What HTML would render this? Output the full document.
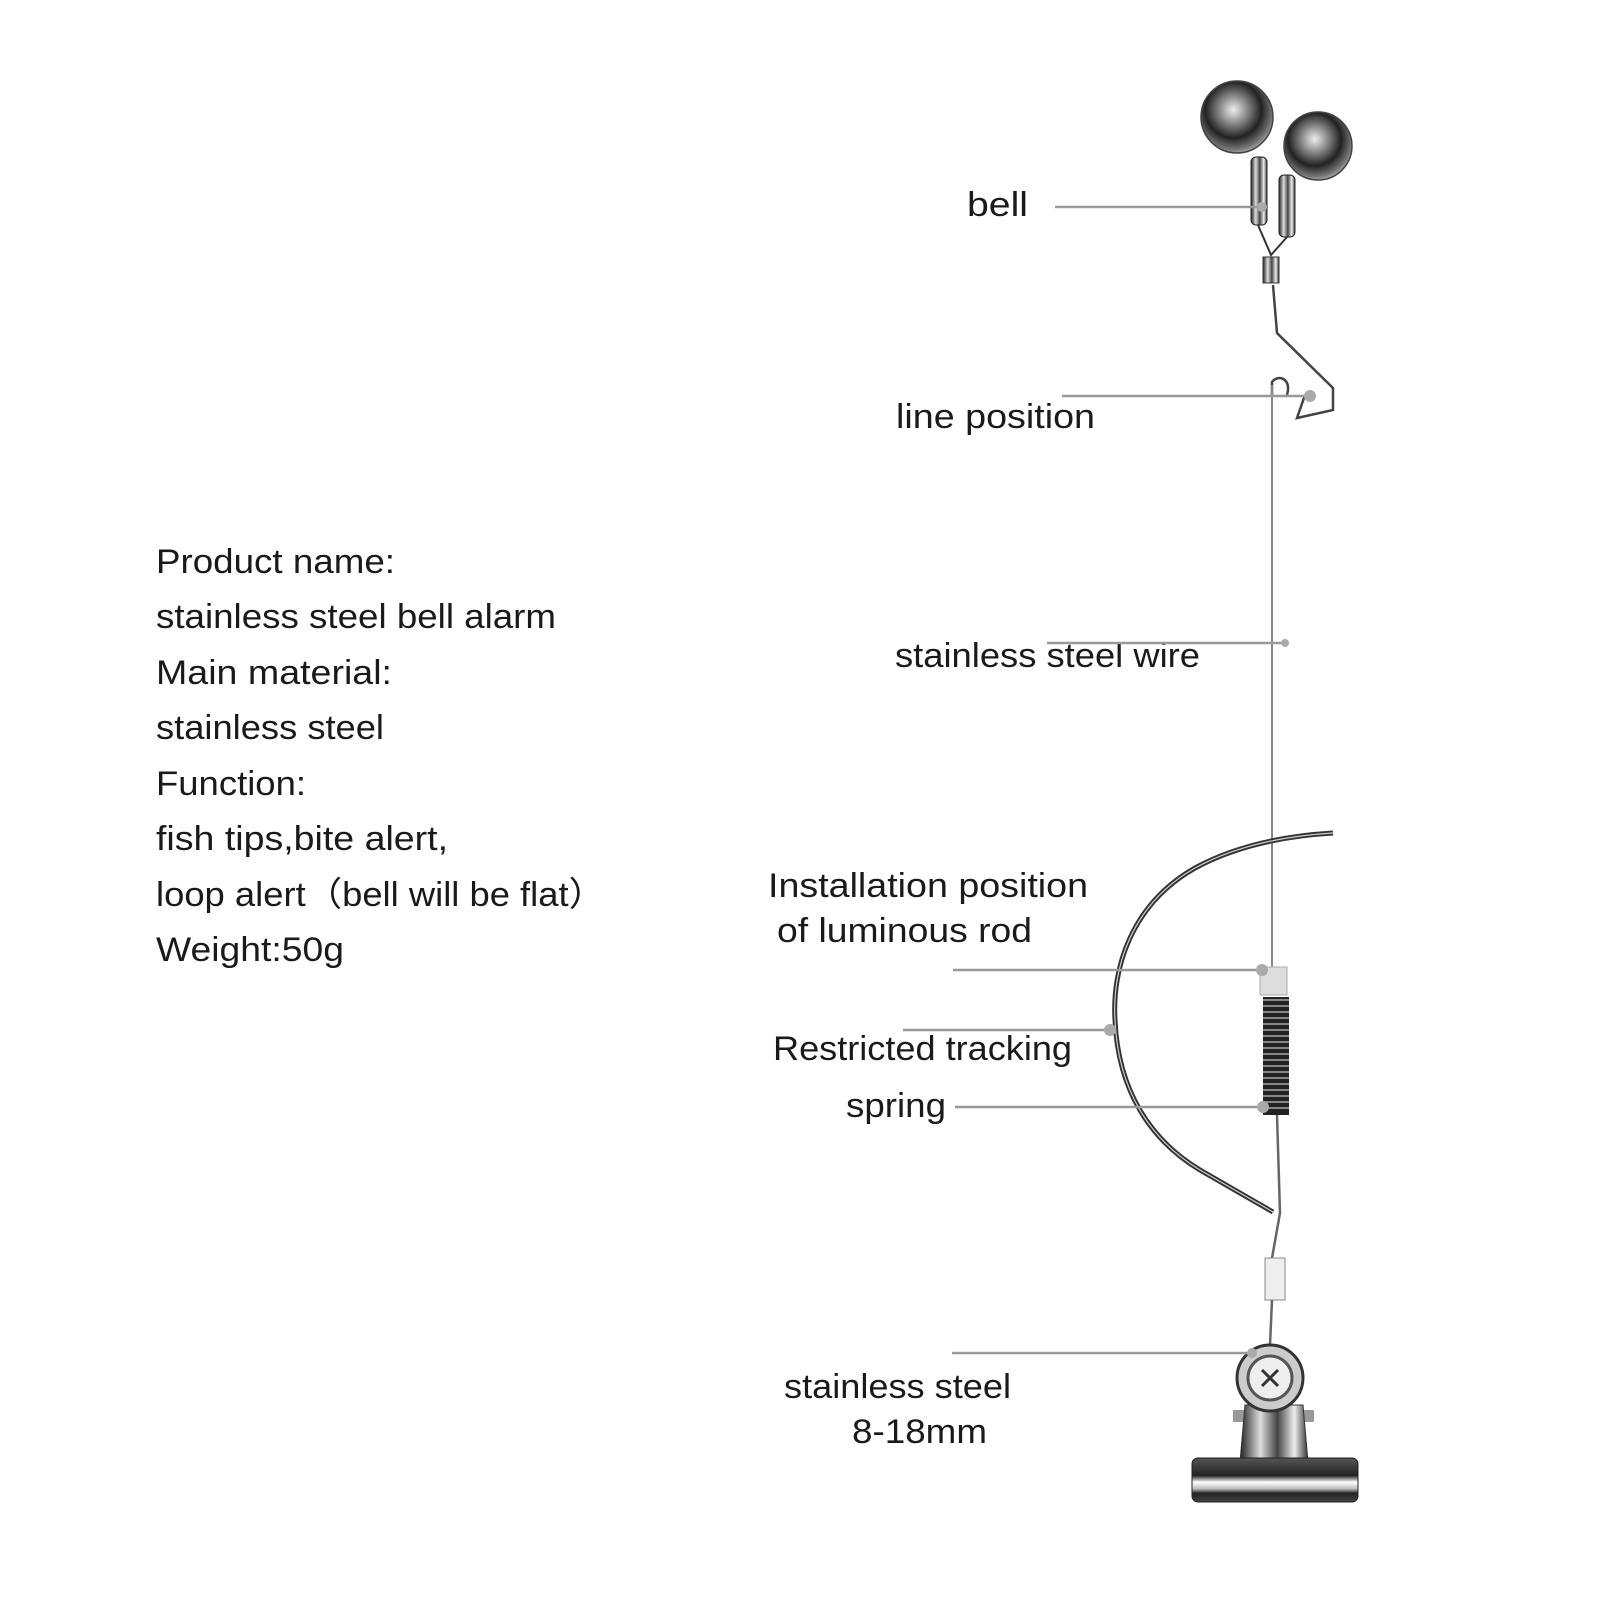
<!DOCTYPE html>
<html><head><meta charset="utf-8"><style>
html,body{margin:0;padding:0;background:#fff}
svg{display:block}
text{font-family:"Liberation Sans","DejaVu Sans",sans-serif;font-size:34px;fill:#1a1a1a}
</style></head><body>
<svg width="1600" height="1600" viewBox="0 0 1600 1600" xmlns="http://www.w3.org/2000/svg">
<defs>
<radialGradient id="ball" cx="0.45" cy="0.4" r="0.65">
<stop offset="0" stop-color="#eee"/><stop offset="0.3" stop-color="#888"/><stop offset="0.6" stop-color="#222"/><stop offset="0.85" stop-color="#777"/><stop offset="1" stop-color="#ccc"/>
</radialGradient>
<linearGradient id="met" x1="0" x2="1">
<stop offset="0" stop-color="#222"/><stop offset="0.3" stop-color="#ddd"/><stop offset="0.55" stop-color="#444"/><stop offset="0.8" stop-color="#eee"/><stop offset="1" stop-color="#333"/>
</linearGradient>
<linearGradient id="bar" x1="0" y1="0" x2="0" y2="1">
<stop offset="0" stop-color="#555"/><stop offset="0.4" stop-color="#222"/><stop offset="0.55" stop-color="#fff"/><stop offset="0.7" stop-color="#bbb"/><stop offset="0.8" stop-color="#222"/><stop offset="1" stop-color="#444"/>
</linearGradient>
</defs>

<text x="156" y="573" textLength="239" lengthAdjust="spacingAndGlyphs">Product name:</text>
<text x="156" y="628" textLength="400" lengthAdjust="spacingAndGlyphs">stainless steel bell alarm</text>
<text x="156" y="684" textLength="236" lengthAdjust="spacingAndGlyphs">Main material:</text>
<text x="156" y="739" textLength="228" lengthAdjust="spacingAndGlyphs">stainless steel</text>
<text x="156" y="795" textLength="150" lengthAdjust="spacingAndGlyphs">Function:</text>
<text x="156" y="850" textLength="292" lengthAdjust="spacingAndGlyphs">fish tips,bite alert,</text>
<text x="156" y="906" textLength="449" lengthAdjust="spacingAndGlyphs">loop alert（bell will be flat）</text>
<text x="156" y="961" textLength="188" lengthAdjust="spacingAndGlyphs">Weight:50g</text>

<text x="967" y="216" textLength="61" lengthAdjust="spacingAndGlyphs">bell</text>
<text x="896" y="428" textLength="199" lengthAdjust="spacingAndGlyphs">line position</text>
<text x="895" y="667" textLength="305" lengthAdjust="spacingAndGlyphs">stainless steel wire</text>
<text x="768" y="897" textLength="320" lengthAdjust="spacingAndGlyphs">Installation position</text>
<text x="777" y="942" textLength="255" lengthAdjust="spacingAndGlyphs">of luminous rod</text>
<text x="773" y="1060" textLength="299" lengthAdjust="spacingAndGlyphs">Restricted tracking</text>
<text x="846" y="1117" textLength="100" lengthAdjust="spacingAndGlyphs">spring</text>
<text x="784" y="1398" textLength="227" lengthAdjust="spacingAndGlyphs">stainless steel</text>
<text x="852" y="1443" textLength="135" lengthAdjust="spacingAndGlyphs">8-18mm</text>

<circle cx="1237" cy="117" r="36" fill="url(#ball)" stroke="#444" stroke-width="1.5"/>
<circle cx="1318" cy="146" r="34" fill="url(#ball)" stroke="#444" stroke-width="1.5"/>
<rect x="1251" y="157" width="16" height="68" rx="5" fill="url(#met)" stroke="#222"/>
<rect x="1279" y="175" width="16" height="62" rx="5" fill="url(#met)" stroke="#222"/>
<path d="M1258 225 L1271 255 L1287 237" fill="none" stroke="#333" stroke-width="2"/>
<rect x="1263" y="257" width="16" height="26" fill="url(#met)" stroke="#333"/>
<path d="M1273 285 L1277 333 L1333 388 L1333 410 L1297 418 L1305 395 M1287 395 C1292 378 1278 374 1272 382 L1272 395" fill="none" stroke="#444" stroke-width="2.5"/>
<path d="M1272 385 L1272 968" fill="none" stroke="#888" stroke-width="2"/>
<path d="M1333 833 Q1250 838 1195 868 C1130 905 1112 970 1115 1020 C1118 1090 1150 1140 1200 1170 L1273 1212" fill="none" stroke="#333" stroke-width="5"/>
<path d="M1333 833 Q1250 838 1195 868 C1130 905 1112 970 1115 1020 C1118 1090 1150 1140 1200 1170 L1273 1212" fill="none" stroke="#ccc" stroke-width="1.2"/>
<rect x="1260" y="967" width="27" height="28" fill="#ddd" stroke="#aaa"/>
<rect x="1263" y="997" width="26" height="118" fill="#222"/>
<path d="M1263 1000 H1289 M1263 1006 H1289 M1263 1012 H1289 M1263 1018 H1289 M1263 1024 H1289 M1263 1030 H1289 M1263 1036 H1289 M1263 1042 H1289 M1263 1048 H1289 M1263 1054 H1289 M1263 1060 H1289 M1263 1066 H1289 M1263 1072 H1289 M1263 1078 H1289 M1263 1084 H1289 M1263 1090 H1289 M1263 1096 H1289 M1263 1102 H1289 M1263 1108 H1289" stroke="#aaa" stroke-width="1.5"/>
<path d="M1277 1115 L1280 1213 L1272 1258" fill="none" stroke="#666" stroke-width="2.5"/>
<rect x="1265" y="1258" width="20" height="42" fill="#eee" stroke="#888"/>
<path d="M1272 1300 L1270 1345" stroke="#666" stroke-width="2.5"/>
<rect x="1233" y="1410" width="14" height="12" fill="#999"/>
<rect x="1300" y="1410" width="14" height="12" fill="#999"/>
<path d="M1245 1405 L1303 1405 L1308 1462 L1240 1462 Z" fill="url(#met)" stroke="#333"/>
<circle cx="1270" cy="1378" r="33" fill="#ccc" stroke="#333" stroke-width="3"/>
<circle cx="1270" cy="1378" r="22" fill="#eee" stroke="#555" stroke-width="3"/>
<path d="M1262 1370 L1278 1386 M1278 1370 L1262 1386" stroke="#333" stroke-width="3"/>
<rect x="1192" y="1458" width="166" height="44" rx="6" fill="url(#bar)" stroke="#222"/>

<g stroke="#999" stroke-width="2.5">
<line x1="1055" y1="207" x2="1262" y2="207"/>
<line x1="1062" y1="396" x2="1310" y2="396"/>
<line x1="1047" y1="643" x2="1285" y2="643"/>
<line x1="953" y1="970" x2="1262" y2="970"/>
<line x1="903" y1="1030" x2="1110" y2="1030"/>
<line x1="955" y1="1107" x2="1263" y2="1107"/>
<line x1="952" y1="1353" x2="1250" y2="1353"/>
</g>
<g fill="#aaa">
<circle cx="1262" cy="207" r="5"/><circle cx="1310" cy="396" r="6"/><circle cx="1285" cy="643" r="4"/>
<circle cx="1262" cy="970" r="6"/><circle cx="1110" cy="1030" r="6"/><circle cx="1263" cy="1107" r="6"/><circle cx="1252" cy="1353" r="5"/>
</g>
</svg>
</body></html>
